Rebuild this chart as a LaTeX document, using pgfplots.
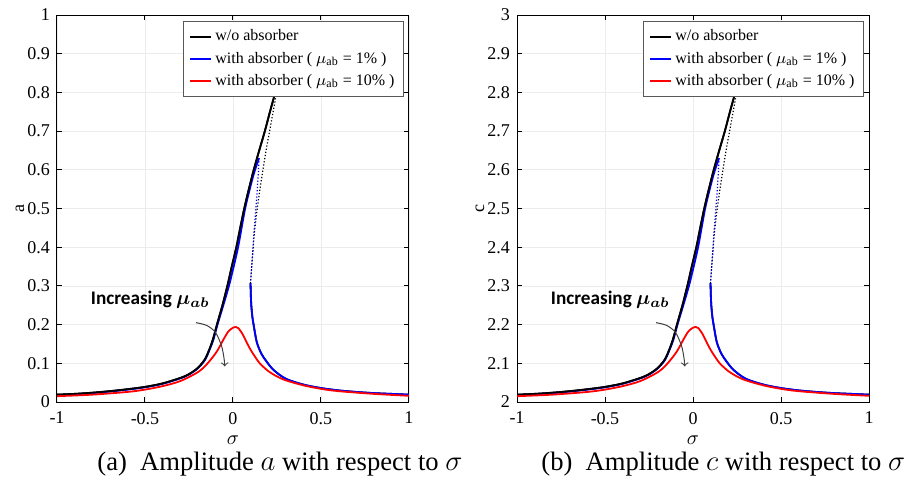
\documentclass[border=0pt]{standalone}
\usepackage{pgfplots}
\pgfplotsset{compat=1.18}
\usepackage{pgfplotstable}
\usepackage{bm}
\usepackage{fontspec}
\setmainfont{Liberation Serif}
\newfontfamily\calibri{Carlito}

\pgfplotstableread{
s a
-1 0.019
-0.9 0.021
-0.8 0.024
-0.7 0.028
-0.6 0.033
-0.5 0.039
-0.4 0.048
-0.3 0.062
-0.25 0.072
-0.2 0.088
-0.16 0.110
-0.136 0.134
-0.115 0.160
-0.091 0.200
-0.06 0.250
-0.032 0.300
-0.007 0.350
0.019 0.400
0.041 0.450
0.064 0.500
0.09 0.550
0.118 0.600
0.149 0.650
0.181 0.700
0.21 0.750
0.2375 0.795
0.26 0.830
}\tblackup

\pgfplotstableread{
s a
0.0997 0.307
0.11 0.370
0.12 0.430
0.135 0.490
0.15 0.540
0.17 0.600
0.19 0.655
0.208 0.700
0.228 0.750
0.246 0.795
0.26 0.830
}\tblackdot

\pgfplotstableread{
s a
-1 0.018
-0.9 0.020
-0.8 0.023
-0.7 0.027
-0.6 0.032
-0.5 0.038
-0.4 0.047
-0.3 0.061
-0.25 0.071
-0.2 0.087
-0.16 0.108
-0.134 0.134
-0.112 0.160
-0.088 0.200
-0.055 0.250
-0.023 0.300
0.004 0.350
0.029 0.400
0.049 0.450
0.069 0.500
0.094 0.548
0.12 0.592
0.148 0.630
}\tblueup

\pgfplotstableread{
s a
0.148 0.630
0.145 0.600
0.138 0.550
0.127 0.483
0.115 0.410
0.106 0.350
0.0997 0.311
}\tbluedot

\pgfplotstableread{
s a
0.0997 0.307
0.101 0.280
0.104 0.250
0.11 0.220
0.117 0.200
0.135 0.155
0.161 0.125
0.19 0.105
0.23 0.083
0.3 0.060
0.4 0.045
0.5 0.036
0.6 0.030
0.7 0.026
0.8 0.023
0.9 0.021
1 0.019
}\tlow

\pgfplotstableread{
s a
-1 0.015
-0.8 0.019
-0.6 0.026
-0.5 0.032
-0.4 0.041
-0.3 0.054
-0.2 0.077
-0.15 0.097
-0.1 0.125
-0.076 0.143
-0.05 0.165
-0.025 0.183
0 0.192
0.015 0.194
0.03 0.191
0.055 0.175
0.08 0.152
0.1 0.135
0.125 0.117
0.152 0.100
0.2 0.080
0.25 0.066
0.3 0.056
0.4 0.043
0.5 0.034
0.6 0.028
0.8 0.021
1 0.016
}\tred

\pgfplotstableread{
s a
-0.21 0.205
-0.15 0.198
-0.1 0.18
-0.065 0.145
-0.05 0.110
-0.047 0.092
}\tarrow

\pgfplotsset{
  myaxis/.style={
    scale only axis,
    width=176pt, height=193.5pt,
    xmin=-1, xmax=1,
    xtick={-1,-0.5,0,0.5,1},
    xticklabels={-1,-0.5,0,0.5,1},
    tick align=inside,
    major tick length=2.5pt,
    grid=major,
    major grid style={gray!15, line width=0.4pt},
    axis line style={line width=0.5pt},
    tick style={black, line width=0.5pt},
    ticklabel style={font=\fontsize{9}{10}\selectfont},
    xticklabel style={yshift=-1.5pt},
    xlabel={$\sigma$},
    xlabel style={font=\fontsize{10}{11}\selectfont, inner sep=0pt, at={(axis description cs:0.5,0)}, anchor=center, yshift=-19pt},
    ylabel style={font=\fontsize{9}{10}\selectfont, at={(axis description cs:0,0.5)}, anchor=center, yshift=18.5pt},
    legend style={at={(0.986,0.984)}, anchor=north east, draw=gray!70!black, line width=0.6pt,
      fill=white, font=\fontsize{8}{9.5}\selectfont, nodes={inner xsep=1.5pt}},
    legend image post style={xscale=0.62},
    legend cell align=left,
  }
}

\begin{document}
\begin{tikzpicture}
\useasboundingbox (-28.5pt,-43.5pt) rectangle (430pt,201pt);
\begin{axis}[myaxis, at={(0pt,0pt)}, anchor=south west,
  ymin=0, ymax=1,
  ytick={0,0.1,0.2,0.3,0.4,0.5,0.6,0.7,0.8,0.9,1},
  yticklabels={0,0.1,0.2,0.3,0.4,0.5,0.6,0.7,0.8,0.9,1},
  ylabel={a}]
\addplot[black, line width=0.9pt, smooth] table[x=s, y=a] {\tblackup};
\addlegendentry{w/o absorber}
\addplot[black, line width=0.6pt, densely dotted, smooth, forget plot] table[x=s, y=a] {\tblackdot};
\addplot[black, line width=0.9pt, smooth, forget plot] table[x=s, y=a] {\tlow};
\addplot[blue, line width=0.9pt, smooth] table[x=s, y=a] {\tblueup};
\addlegendentry{with absorber ( $\mu_{\mathrm{ab}}$ = 1\% )}
\addplot[black, line width=0.9pt, smooth, forget plot] table[x=s, y=a] {\tblackup};
\addplot[blue, line width=0.6pt, densely dotted, smooth, forget plot] table[x=s, y=a] {\tbluedot};
\addplot[blue, line width=0.9pt, smooth, forget plot] table[x=s, y=a] {\tlow};
\addplot[red, line width=0.9pt, smooth] table[x=s, y=a] {\tred};
\addlegendentry{with absorber ( $\mu_{\mathrm{ab}}$ = 10\% )}
\addplot[gray!50!black, line width=0.5pt, smooth, ->, forget plot] table[x=s, y=a] {\tarrow};
\node[font=\calibri\bfseries\fontsize{9.6}{11}\selectfont, inner sep=0pt] at (axis cs:-0.47,0.264) {Increasing $\bm{\mu_{ab}}$};
\end{axis}
\node[anchor=base west, font=\fontsize{13.3}{15}\selectfont, inner sep=0pt] at (20pt,-34pt) {(a)\ \ Amplitude $a$ with respect to $\sigma$};

\begin{axis}[myaxis, at={(230pt,0pt)}, anchor=south west,
  ymin=2, ymax=3,
  ytick={2,2.1,2.2,2.3,2.4,2.5,2.6,2.7,2.8,2.9,3},
  yticklabels={2,2.1,2.2,2.3,2.4,2.5,2.6,2.7,2.8,2.9,3},
  ylabel={c}]
\addplot[black, line width=0.9pt, smooth] table[x=s, y expr=\thisrow{a}+2] {\tblackup};
\addlegendentry{w/o absorber}
\addplot[black, line width=0.6pt, densely dotted, smooth, forget plot] table[x=s, y expr=\thisrow{a}+2] {\tblackdot};
\addplot[black, line width=0.9pt, smooth, forget plot] table[x=s, y expr=\thisrow{a}+2] {\tlow};
\addplot[blue, line width=0.9pt, smooth] table[x=s, y expr=\thisrow{a}+2] {\tblueup};
\addlegendentry{with absorber ( $\mu_{\mathrm{ab}}$ = 1\% )}
\addplot[black, line width=0.9pt, smooth, forget plot] table[x=s, y expr=\thisrow{a}+2] {\tblackup};
\addplot[blue, line width=0.6pt, densely dotted, smooth, forget plot] table[x=s, y expr=\thisrow{a}+2] {\tbluedot};
\addplot[blue, line width=0.9pt, smooth, forget plot] table[x=s, y expr=\thisrow{a}+2] {\tlow};
\addplot[red, line width=0.9pt, smooth] table[x=s, y expr=\thisrow{a}+2] {\tred};
\addlegendentry{with absorber ( $\mu_{\mathrm{ab}}$ = 10\% )}
\addplot[gray!50!black, line width=0.5pt, smooth, ->, forget plot] table[x=s, y expr=\thisrow{a}+2] {\tarrow};
\node[font=\calibri\bfseries\fontsize{9.6}{11}\selectfont, inner sep=0pt] at (axis cs:-0.47,2.264) {Increasing $\bm{\mu_{ab}}$};
\end{axis}
\node[anchor=base west, font=\fontsize{13.3}{15}\selectfont, inner sep=0pt] at (242pt,-34pt) {(b)\ \ Amplitude $c$ with respect to $\sigma$};
\end{tikzpicture}
\end{document}
